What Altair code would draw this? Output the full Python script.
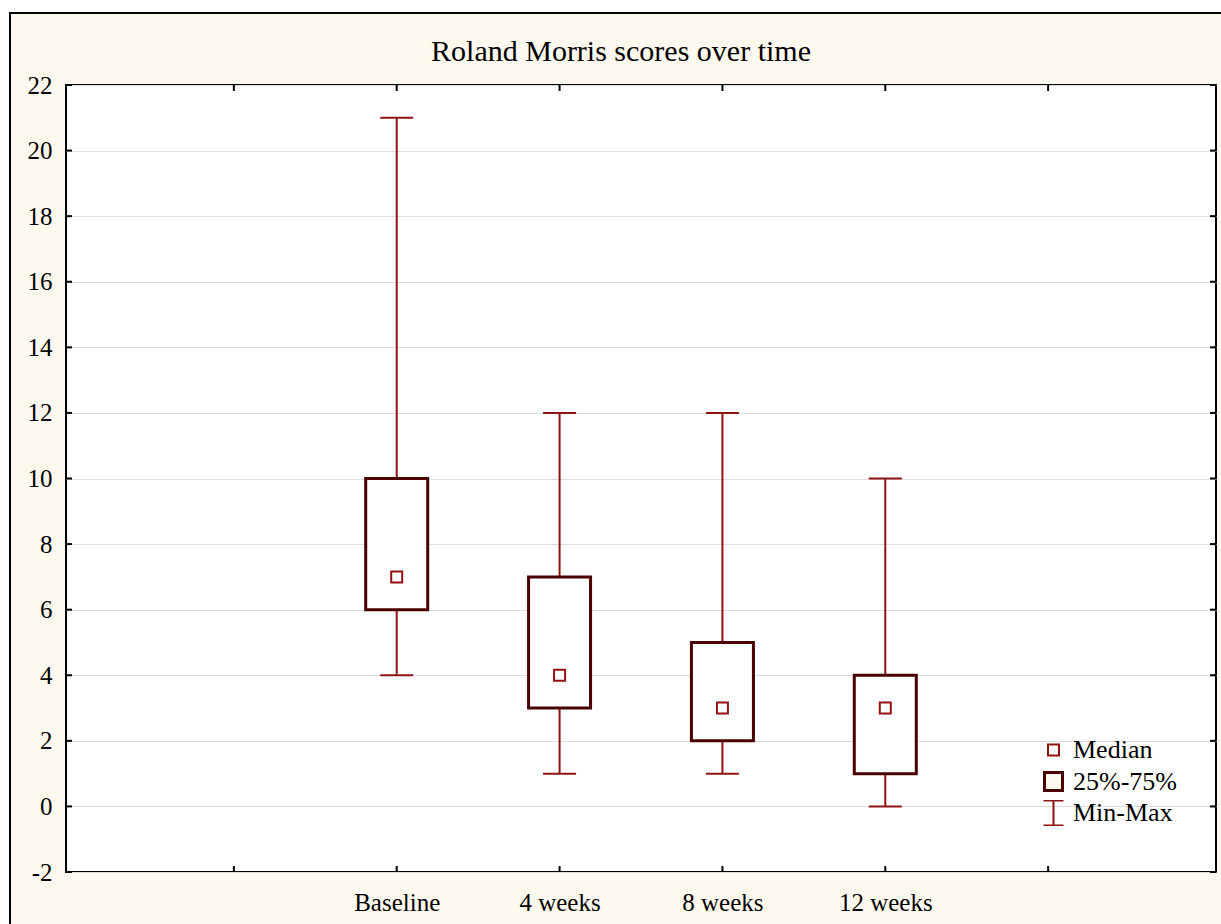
import json

import altair as alt
import pandas as pd

# Roland Morris disability scores by visit
categories = ["Baseline", "4 weeks", "8 weeks", "12 weeks"]
mins = [4, 1, 1, 0]
q1s = [6, 3, 2, 1]
medians = [7, 4, 3, 3]
q3s = [10, 7, 5, 4]
maxs = [21, 12, 12, 10]

y_ticks = list(range(-2, 23, 2))
x_ticks = [1, 2, 3, 4, 5, 6]
x_labels = ["", "", "Baseline", "4 weeks", "8 weeks", "12 weeks", "", ""]
legend_items = ["Median", "25%-75%", "Min-Max"]
title_text = "Roland Morris scores over time"

FONT = "Liberation Serif"
CREAM = "#FEF9EF"
BOX = "#4B0000"
WHISKER = "#8E1414"
MEDIAN = "#961010"
GRID = "#DCDCDC"

W, H = 1150, 787
PAD = {"left": 66, "top": 85, "right": 5, "bottom": 52}

df = pd.DataFrame({
    "group": categories,
    "pos": [i + 2 for i in range(len(categories))],
    "lo": mins,
    "q1": q1s,
    "med": medians,
    "q3": q3s,
    "hi": maxs,
    "item": "Median",
})

x_scale = alt.Scale(domain=[0, 7], nice=False, zero=False)
y_scale = alt.Scale(domain=[-2, 22], nice=False, zero=False)

x_axis = alt.Axis(
    values=x_ticks,
    labelExpr=f"{json.dumps(x_labels)}[datum.value]",
    ticks=False, domain=False, grid=False,
    labelPadding=18, title=None,
)
y_axis = alt.Axis(
    values=y_ticks,
    labelExpr="'' + datum.value",
    ticks=False, domain=False, grid=True,
    gridColor=GRID, gridWidth=1,
    labelPadding=14, title=None,
)

X = dict(scale=x_scale, axis=x_axis)
Y = dict(scale=y_scale, axis=y_axis)

base = alt.Chart(df)

whiskers = base.mark_rule(color=WHISKER, strokeWidth=2).encode(
    x=alt.X("pos:Q", **X), y=alt.Y("lo:Q", **Y), y2="hi:Q",
)
cap_lo = base.mark_tick(color=WHISKER, orient="horizontal", size=33,
                        thickness=2, opacity=1).encode(
    x=alt.X("pos:Q", **X), y=alt.Y("lo:Q", **Y),
)
cap_hi = base.mark_tick(color=WHISKER, orient="horizontal", size=33,
                        thickness=2, opacity=1).encode(
    x=alt.X("pos:Q", **X), y=alt.Y("hi:Q", **Y),
)
boxes = base.mark_bar(size=62, fill="white", stroke=BOX, strokeWidth=3).encode(
    x=alt.X("pos:Q", **X), y=alt.Y("q1:Q", **Y), y2="q3:Q",
)

SQUARE = "M-1,-1H1V1H-1Z"
IBEAM = "M-0.8,-1H0.8M0,-1V1M-0.8,1H0.8"
legend = alt.Legend(
    title=None, orient="none", legendX=974, legendY=652,
    labelFont=FONT, labelFontSize=26, labelColor="black",
    labelOffset=6, rowPadding=5.5, padding=0, clipHeight=26,
)
med_points = base.mark_point(opacity=1, filled=False).encode(
    x=alt.X("pos:Q", **X),
    y=alt.Y("med:Q", **Y),
    shape=alt.Shape("item:N", scale=alt.Scale(domain=legend_items,
                                              range=[SQUARE, SQUARE, IBEAM]),
                    legend=legend),
    stroke=alt.Stroke("item:N", scale=alt.Scale(domain=legend_items,
                                                range=[MEDIAN, BOX, WHISKER]),
                      legend=legend),
    fill=alt.Fill("item:N", scale=alt.Scale(domain=legend_items,
                                            range=["white", CREAM, "transparent"]),
                  legend=legend),
    size=alt.Size("item:N", scale=alt.Scale(type="ordinal", domain=legend_items,
                                            range=[121, 324, 625]),
                  legend=legend),
    strokeWidth=alt.StrokeWidth("item:N", scale=alt.Scale(type="ordinal",
                                                          domain=legend_items,
                                                          range=[2, 3, 2]),
                                legend=legend),
)

# inward tick marks on all four sides of the plot frame
ytick_df = pd.DataFrame({"v": y_ticks})
xtick_df = pd.DataFrame({"v": x_ticks})
ytick_left = alt.Chart(ytick_df).mark_rule(color="black", strokeWidth=2).encode(
    y=alt.Y("v:Q", **Y), x=alt.value(0), x2=alt.value(6),
)
ytick_right = alt.Chart(ytick_df).mark_rule(color="black", strokeWidth=2).encode(
    y=alt.Y("v:Q", **Y), x=alt.value(W - 6), x2=alt.value(W),
)
xtick_bottom = alt.Chart(xtick_df).mark_rule(color="black", strokeWidth=2).encode(
    x=alt.X("v:Q", **X), y=alt.value(H - 6), y2=alt.value(H),
)
xtick_top = alt.Chart(xtick_df).mark_rule(color="black", strokeWidth=2).encode(
    x=alt.X("v:Q", **X), y=alt.value(0), y2=alt.value(6),
)

one_row = alt.Data(values=[{"k": 0}])

# outer white margin and black frame around the cream panel
frame_left_strip = alt.Chart(one_row).mark_rect(color="white").encode(
    x=alt.value(-PAD["left"]), x2=alt.value(-PAD["left"] + 9),
    y=alt.value(-PAD["top"]), y2=alt.value(H + PAD["bottom"]),
)
frame_top_strip = alt.Chart(one_row).mark_rect(color="white").encode(
    x=alt.value(-PAD["left"]), x2=alt.value(W + PAD["right"]),
    y=alt.value(-PAD["top"]), y2=alt.value(-PAD["top"] + 12),
)
frame_left_line = alt.Chart(one_row).mark_rule(color="black", strokeWidth=2).encode(
    x=alt.value(-PAD["left"] + 10), y=alt.value(-PAD["top"] + 12),
    y2=alt.value(H + PAD["bottom"]),
)
frame_top_line = alt.Chart(one_row).mark_rule(color="black", strokeWidth=2).encode(
    x=alt.value(-PAD["left"] + 9), x2=alt.value(W + PAD["right"]),
    y=alt.value(-PAD["top"] + 13),
)

# chart title, centred a little left of the plot centre
title = alt.Chart(alt.Data(values=[{"t": title_text}])).mark_text(
    font=FONT, fontSize=30, color="black", align="center", baseline="alphabetic",
).encode(
    text="t:N", x=alt.value(W / 2 - 20), y=alt.value(-24),
)

chart = alt.layer(
    whiskers, cap_lo, cap_hi, boxes, med_points,
    ytick_left, ytick_right, xtick_bottom, xtick_top,
    frame_left_strip, frame_top_strip, frame_left_line, frame_top_line,
    title,
).properties(
    width=W, height=H,
    padding=PAD,
    autosize=alt.AutoSizeParams(type="none"),
    background=CREAM,
).configure_axis(
    labelFont=FONT, labelFontSize=25, labelColor="black",
).configure_view(
    fill="white", stroke="black", strokeWidth=2,
)

chart.save("out.html", embed_options={"renderer": "svg", "actions": False})
